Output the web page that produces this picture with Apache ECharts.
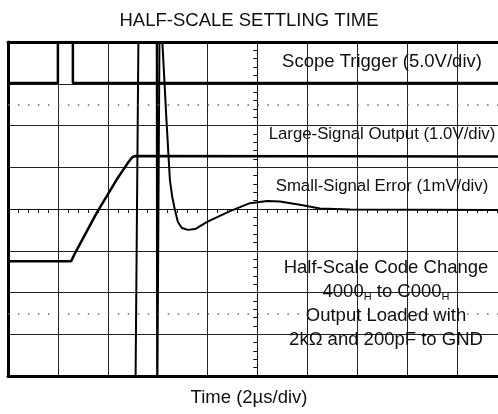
<!DOCTYPE html>
<html>
<head>
<meta charset="utf-8">
<script src="https://cdn.jsdelivr.net/npm/echarts@6/dist/echarts.min.js"></script>
<style>
  html, body { margin: 0; padding: 0; background: #fff; }
  #chart { width: 498px; height: 414px; }
</style>
</head>
<body>
<div id="chart"></div>
<script>
// time in µs (2µs/div), amplitude in screen divisions
const triggerTrace = [[-10, 3.02], [-8, 3.02], [-8, 4], [-7.4, 4], [-7.4, 3.02], [10, 3.02]]
const outputTrace = [
  [-10, -1.25], [-7.47, -1.25], [-7.35, -1.1], [-6.45, -0.1], [-5.65, 0.7],
  [-5.2, 1.1], [-5.02, 1.24], [-4.9, 1.27], [10, 1.26]
]
const errorTrace = [
  [-4.9, -5], [-4.76, 5], [-4.04, 5], [-4.02, -5], [-3.98, -5], [-3.92, 5],
  [-3.83, 4.2], [-3.65, 2.14], [-3.51, 0.69], [-3.42, 0.3], [-3.31, -0.02],
  [-3.19, -0.31], [-3.03, -0.455], [-2.79, -0.5], [-2.5, -0.48], [-2.02, -0.31],
  [-1.1, -0.05], [-0.3, 0.14], [0.38, 0.19], [0.9, 0.18], [1.7, 0.1],
  [2.5, 0.01], [3.7, -0.01], [10, -0.024]
]
const dottedRows = [2.5, -2.5]
const traceLabels = [
  ['Scope Trigger (5.0V/div)', 62, 18.5],
  ['Large-Signal Output (1.0V/div)', 134, 16.8],
  ['Small-Signal Error (1mV/div)', 186, 16.8]
]
const noteLines = [
  '{t|Half-Scale Code Change}',
  '{t|4000}{s|H}{t| to C000}{s|H}',
  '{t|Output Loaded with}',
  '{t|2kΩ and 200pF to GND}'
]

const font = 'Liberation Sans, Arial, sans-serif'
const ink = '#111'
const tMin = -10
const tMax = 9.64   // screen is cut off just before the last division ends

const centerX = (inside) => ({
  type: 'value', min: tMin, max: tMax, interval: 2,
  axisLine: { show: true, onZero: true, lineStyle: { color: ink, width: 1 } },
  axisTick: { show: true, inside: inside, length: 4, lineStyle: { color: ink } },
  minorTick: { show: true, splitNumber: 5, length: 4, lineStyle: { color: ink } },
  axisLabel: { show: false },
  splitLine: { show: !inside, lineStyle: { color: '#222', width: 1 } }
})
const centerY = (inside) => ({
  type: 'value', min: -4, max: 4, interval: 1,
  axisLine: { show: true, onZero: true, lineStyle: { color: ink, width: 1 } },
  axisTick: { show: true, inside: inside, length: 4, lineStyle: { color: ink } },
  minorTick: { show: true, splitNumber: 5, length: 4, lineStyle: { color: ink } },
  axisLabel: { show: false },
  splitLine: { show: !inside, lineStyle: { color: '#222', width: 1 } }
})
// thick frame edges (no right edge: it falls outside the picture)
const frameX = (pos) => ({
  type: 'value', min: tMin, max: tMax, position: pos,
  axisLine: { show: true, onZero: false, lineStyle: { color: '#000', width: 3 } },
  axisTick: { show: false }, axisLabel: { show: false }, splitLine: { show: false }
})
const frameY = {
  type: 'value', min: -4, max: 4, position: 'left',
  axisLine: { show: true, onZero: false, lineStyle: { color: '#000', width: 3 } },
  axisTick: { show: false }, axisLabel: { show: false }, splitLine: { show: false }
}

const chart = echarts.init(document.getElementById('chart'))

const graphic = []
traceLabels.forEach(([txt, y, size]) => {
  graphic.push({
    type: 'text', x: 382, y: y, z: 10,
    style: { text: txt, fill: ink, font: size + 'px ' + font, align: 'center', verticalAlign: 'middle' }
  })
})
noteLines.forEach((txt, i) => {
  graphic.push({
    type: 'text', x: 386, y: 268 + i * 24, z: 10,
    style: {
      text: txt, align: 'center', verticalAlign: 'middle',
      rich: {
        t: { fontSize: 18.5, fontFamily: font, fill: ink },
        s: { fontSize: 11, fontFamily: font, fill: ink, padding: [10, 0, 0, 0] }
      }
    }
  })
})
graphic.push({
  type: 'text', x: 249, y: 398,
  style: { text: 'Time (2µs/div)', fill: ink, font: '18.5px ' + font, align: 'center', verticalAlign: 'middle' }
})

chart.setOption({
  animation: false,
  backgroundColor: '#fff',
  title: {
    text: 'HALF-SCALE SETTLING TIME', left: 'center', top: 6,
    textStyle: { fontSize: 18.5, fontWeight: 'normal', color: ink, fontFamily: font }
  },
  grid: { left: 8, right: 0, top: 42, bottom: 38 },
  xAxis: [centerX(false), centerX(true), frameX('bottom'), frameX('top')],
  yAxis: [centerY(false), centerY(true), frameY],
  graphic: graphic,
  series: [
    {
      type: 'line', data: triggerTrace, symbol: 'none',
      lineStyle: { color: '#000', width: 2.5 }
    },
    {
      type: 'line', data: outputTrace, symbol: 'none',
      lineStyle: { color: '#000', width: 2.5 }
    },
    {
      type: 'line', data: errorTrace, symbol: 'none',
      lineStyle: { color: '#000', width: 2 },
      markLine: {
        silent: true, symbol: 'none', label: { show: false },
        lineStyle: { color: '#666', width: 1.5, type: [1.5, 8.48] },
        data: dottedRows.map((v) => ({ yAxis: v }))
      }
    }
  ]
})
</script>
</body>
</html>
